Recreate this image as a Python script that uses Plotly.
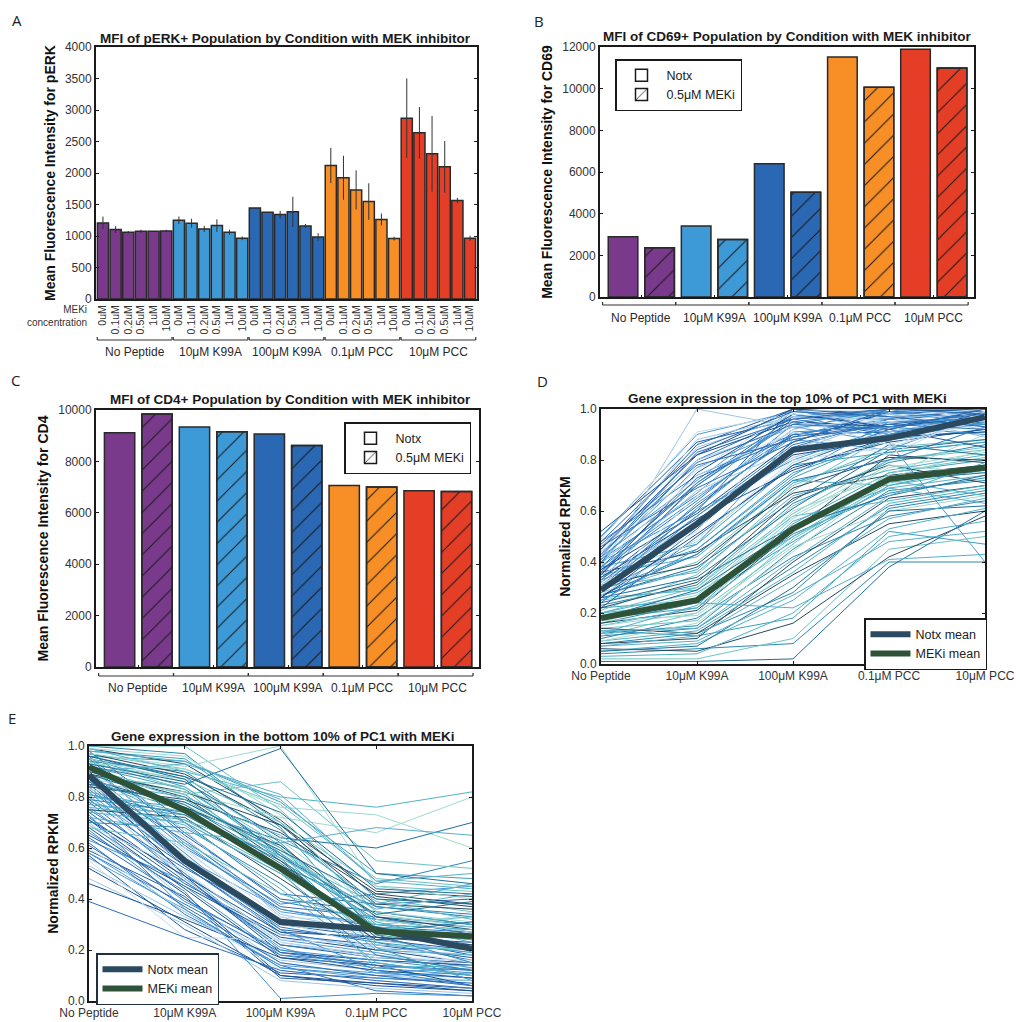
import plotly.graph_objects as go

W, H = 1016, 1022

# ---------------- DATA ----------------
GROUPS = ["No Peptide", "10μM K99A", "100μM K99A", "0.1μM PCC", "10μM PCC"]
GROUP_COLORS = ["#7a3a8c", "#3e9ad6", "#2a68b3", "#f78e26", "#e53e27"]
MEKI_DOSES = ["0uM", "0.1uM", "0.2uM", "0.5uM", "1uM", "10uM"]

# Panel A: pERK MFI (6 doses per group) and error
PERK_MEAN = [1208, 1102, 1060, 1075, 1075, 1080,
             1250, 1203, 1112, 1165, 1060, 964,
             1446, 1377, 1340, 1383, 1160, 985,
             2119, 1923, 1732, 1547, 1261, 959,
             2871, 2638, 2304, 2098, 1563, 964]
PERK_ERR = [100, 55, 20, 25, 0, 20,
            60, 70, 50, 100, 40, 30,
            0, 0, 60, 240, 30, 60,
            280, 350, 310, 290, 95, 30,
            630, 410, 600, 410, 40, 40]

# Panel B: CD69 MFI
CD69_NOTX = [2892, 3406, 6394, 11518, 11888]
CD69_MEKI = [2361, 2763, 5028, 10072, 10988]

# Panel C: CD4 MFI
CD4_NOTX = [9117, 9338, 9065, 7065, 6857]
CD4_MEKI = [9844, 9156, 8623, 7000, 6831]

# Panel D: top 10% of PC1
D_NOTX_MEAN = [0.29, 0.55, 0.84, 0.886, 0.968]
D_MEKI_MEAN = [0.18, 0.25, 0.53, 0.725, 0.77]
D_GENES_UP = [
    [0.45, 0.86, 1.00, 0.98, 1.00], [0.40, 0.80, 0.97, 1.00, 0.99], [0.50, 0.90, 0.99, 0.96, 1.00],
    [0.38, 1.00, 0.93, 0.95, 0.97], [0.35, 0.75, 0.98, 0.93, 0.99], [0.42, 0.70, 0.95, 0.99, 0.96],
    [0.30, 0.66, 0.92, 0.97, 1.00], [0.47, 0.78, 0.88, 0.94, 0.98], [0.33, 0.62, 0.90, 0.91, 0.95],
    [0.28, 0.58, 0.86, 0.95, 0.97], [0.44, 0.72, 1.00, 0.90, 0.94], [0.36, 0.68, 0.84, 0.98, 0.92],
    [0.26, 0.55, 0.82, 0.88, 0.99], [0.40, 0.60, 0.80, 0.93, 0.90], [0.31, 0.52, 0.96, 0.86, 0.96],
    [0.48, 0.84, 0.99, 0.97, 0.93], [0.22, 0.50, 0.78, 0.92, 1.00], [0.37, 0.64, 0.94, 1.00, 0.97],
    [0.29, 0.47, 0.88, 0.84, 0.98], [0.43, 0.88, 0.97, 0.99, 0.95], [0.34, 0.57, 0.76, 0.89, 0.91],
    [0.25, 0.45, 0.74, 0.95, 0.96], [0.39, 0.74, 0.91, 0.82, 0.99], [0.46, 0.69, 0.87, 1.00, 1.00],
    [0.32, 0.60, 1.00, 0.92, 0.85], [0.27, 0.43, 0.72, 0.80, 0.93], [0.41, 0.77, 0.93, 0.87, 0.40],
    [0.35, 0.54, 0.83, 0.97, 0.89], [0.52, 0.82, 0.95, 0.93, 0.97], [0.30, 0.63, 0.89, 0.99, 0.94],
    [0.49, 0.91, 0.98, 0.95, 0.99], [0.42, 0.83, 0.96, 1.00, 0.98], [0.38, 0.71, 0.97, 0.96, 1.00],
    [0.41, 0.66, 0.90, 0.96, 0.98], [0.33, 0.71, 0.95, 0.91, 0.97], [0.46, 0.80, 0.93, 0.98, 0.95],
    [0.37, 0.59, 0.87, 0.99, 1.00], [0.29, 0.61, 0.91, 0.93, 0.96], [0.44, 0.76, 0.99, 1.00, 0.97],
    [0.36, 0.73, 0.89, 0.94, 0.92], [0.50, 0.87, 0.96, 0.90, 0.99], [0.24, 0.53, 0.85, 0.96, 0.98],
    [0.40, 0.67, 0.98, 0.88, 0.95], [0.32, 0.56, 0.81, 0.91, 0.97], [0.45, 0.82, 1.00, 0.97, 0.99],
    [0.38, 0.65, 0.92, 1.00, 0.93], [0.27, 0.49, 0.80, 0.85, 0.96], [0.43, 0.79, 0.94, 0.92, 1.00],
    [0.35, 0.70, 0.96, 0.99, 0.96], [0.48, 0.74, 0.90, 0.95, 0.94], [0.31, 0.58, 0.84, 0.90, 0.99],
    [0.39, 0.85, 0.97, 0.94, 0.98], [0.26, 0.51, 0.77, 0.87, 0.92],
]
D_GENES_LOW = [
    [0.18, 0.22, 0.55, 0.75, 0.80], [0.12, 0.15, 0.45, 0.68, 0.72], [0.25, 0.30, 0.62, 0.80, 0.85],
    [0.08, 0.10, 0.40, 0.65, 0.70], [0.20, 0.28, 0.50, 0.72, 0.66], [0.15, 0.20, 0.58, 0.78, 0.75],
    [0.05, 0.07, 0.30, 0.60, 0.62], [0.30, 0.36, 0.66, 0.76, 0.82], [0.22, 0.25, 0.48, 0.70, 0.78],
    [0.10, 0.18, 0.42, 0.58, 0.64], [0.28, 0.40, 0.70, 0.85, 0.88], [0.14, 0.12, 0.35, 0.55, 0.60],
    [0.03, 0.04, 0.20, 0.50, 0.56], [0.18, 0.26, 0.60, 0.74, 0.90], [0.24, 0.33, 0.54, 0.66, 0.74],
    [0.07, 0.09, 0.27, 0.48, 0.52], [0.33, 0.45, 0.75, 0.88, 0.92], [0.11, 0.14, 0.38, 0.62, 0.68],
    [0.02, 0.02, 0.10, 0.45, 0.50], [0.16, 0.21, 0.52, 0.82, 0.79], [0.26, 0.29, 0.58, 0.64, 0.70],
    [0.09, 0.16, 0.44, 0.73, 0.84], [0.01, 0.01, 0.02, 0.38, 0.60], [0.20, 0.24, 0.22, 0.41, 0.43],
    [0.13, 0.11, 0.18, 0.52, 0.47], [0.04, 0.06, 0.08, 0.40, 0.40], [0.21, 0.35, 0.68, 0.90, 0.95],
    [0.06, 0.05, 0.16, 0.42, 0.58], [0.35, 0.42, 0.72, 0.70, 0.76], [0.17, 0.19, 0.46, 0.60, 0.66],
    [0.27, 0.38, 0.64, 0.86, 0.82], [0.12, 0.23, 0.56, 0.69, 0.63], [0.38, 0.47, 0.78, 0.83, 0.87],
    [0.23, 0.31, 0.63, 0.79, 0.86], [0.14, 0.17, 0.49, 0.71, 0.77], [0.31, 0.39, 0.69, 0.81, 0.80],
    [0.09, 0.13, 0.36, 0.63, 0.69], [0.19, 0.27, 0.57, 0.77, 0.83], [0.26, 0.34, 0.61, 0.84, 0.88],
    [0.07, 0.11, 0.33, 0.57, 0.65], [0.29, 0.43, 0.73, 0.89, 0.91], [0.16, 0.24, 0.51, 0.67, 0.73],
    [0.11, 0.20, 0.47, 0.75, 0.81], [0.22, 0.32, 0.65, 0.78, 0.71], [0.05, 0.08, 0.25, 0.53, 0.61],
    [0.34, 0.48, 0.79, 0.92, 0.94], [0.18, 0.29, 0.53, 0.72, 0.75], [0.13, 0.14, 0.41, 0.66, 0.79],
    [0.27, 0.37, 0.71, 0.83, 0.87], [0.08, 0.12, 0.28, 0.61, 0.67], [0.20, 0.30, 0.59, 0.80, 0.84],
    [0.36, 0.44, 0.67, 0.74, 0.78], [0.15, 0.22, 0.50, 0.69, 0.74],
]

# Panel E: bottom 10% of PC1
E_NOTX_MEAN = [0.885, 0.55, 0.31, 0.28, 0.205]
E_MEKI_MEAN = [0.918, 0.748, 0.52, 0.273, 0.254]
E_GENES_UP = [
    [0.98, 0.95, 0.70, 0.35, 0.30], [0.95, 0.88, 0.62, 0.28, 0.25], [1.00, 1.00, 0.75, 0.40, 0.35],
    [0.90, 0.80, 0.55, 0.25, 0.22], [0.85, 0.78, 0.60, 0.30, 0.28], [0.97, 0.92, 1.00, 0.45, 0.40],
    [0.92, 0.85, 0.99, 0.50, 0.46], [0.88, 0.70, 0.50, 0.20, 0.18], [0.80, 0.76, 0.58, 0.33, 0.30],
    [1.00, 0.97, 0.68, 0.26, 0.15], [0.94, 0.83, 0.52, 0.22, 0.20], [0.75, 0.72, 0.48, 0.24, 0.26],
    [0.99, 0.90, 0.80, 0.76, 0.82], [0.87, 0.82, 0.72, 0.66, 0.80], [0.93, 0.86, 0.64, 0.60, 0.70],
    [0.82, 0.74, 0.56, 0.36, 0.42], [0.96, 0.94, 0.78, 0.50, 0.48], [0.70, 0.68, 0.46, 0.18, 0.12],
    [0.91, 0.81, 0.86, 0.55, 0.52], [0.84, 0.79, 0.66, 0.42, 0.38], [0.78, 0.69, 0.44, 0.15, 0.10],
    [0.99, 0.96, 0.73, 0.32, 0.27], [0.89, 0.77, 0.54, 0.27, 0.31], [0.72, 0.66, 0.62, 0.68, 0.65],
    [0.95, 0.84, 0.58, 0.21, 0.08], [0.86, 0.75, 0.63, 0.46, 0.55], [0.68, 0.62, 0.42, 0.30, 0.33],
    [0.97, 0.89, 0.69, 0.38, 0.36], [0.81, 0.71, 0.51, 0.13, 0.14], [0.93, 0.91, 0.76, 0.73, 0.60],
    [0.96, 0.87, 0.57, 0.34, 0.39], [0.90, 0.93, 0.81, 0.47, 0.44], [0.77, 0.73, 0.53, 0.29, 0.24],
    [0.94, 0.90, 0.67, 0.37, 0.33], [0.88, 0.84, 0.61, 0.29, 0.26], [0.99, 0.93, 0.71, 0.41, 0.37],
    [0.91, 0.79, 0.57, 0.31, 0.23], [0.83, 0.77, 0.59, 0.34, 0.29], [0.96, 0.88, 0.74, 0.44, 0.42],
    [0.86, 0.80, 0.65, 0.39, 0.32], [0.92, 0.83, 0.60, 0.26, 0.21], [0.79, 0.74, 0.55, 0.32, 0.27],
    [0.97, 0.91, 0.77, 0.48, 0.45], [0.89, 0.82, 0.69, 0.43, 0.41], [0.74, 0.70, 0.50, 0.28, 0.24],
    [0.95, 0.86, 0.63, 0.35, 0.31], [0.85, 0.78, 0.59, 0.40, 0.38], [0.98, 0.94, 0.79, 0.47, 0.50],
    [0.90, 0.81, 0.56, 0.23, 0.19], [0.81, 0.73, 0.53, 0.37, 0.34], [0.93, 0.87, 0.70, 0.45, 0.43],
    [0.87, 0.76, 0.61, 0.33, 0.28], [0.76, 0.71, 0.57, 0.38, 0.46],
]
E_GENES_LOW = [
    [0.85, 0.55, 0.30, 0.25, 0.18], [0.78, 0.48, 0.22, 0.18, 0.12], [0.92, 0.62, 0.35, 0.30, 0.25],
    [0.70, 0.40, 0.15, 0.10, 0.08], [0.65, 0.45, 0.25, 0.20, 0.15], [0.88, 0.58, 0.28, 0.12, 0.06],
    [0.60, 0.35, 0.12, 0.08, 0.05], [0.75, 0.52, 0.32, 0.28, 0.22], [0.95, 0.65, 0.40, 0.35, 0.30],
    [0.58, 0.38, 0.18, 0.15, 0.10], [0.82, 0.50, 0.20, 0.14, 0.11], [0.48, 0.30, 0.08, 0.05, 0.03],
    [0.68, 0.42, 0.10, 0.06, 0.04], [0.90, 0.60, 0.38, 0.42, 0.45], [0.55, 0.25, 0.24, 0.22, 0.20],
    [0.39, 0.25, 0.12, 0.08, 0.05], [0.72, 0.46, 0.26, 0.22, 0.17], [0.62, 0.34, 0.14, 0.04, 0.02],
    [0.80, 0.56, 0.36, 0.30, 0.28], [0.53, 0.33, 0.16, 0.12, 0.09], [0.87, 0.49, 0.19, 0.16, 0.14],
    [0.66, 0.43, 0.01, 0.03, 0.02], [0.76, 0.60, 0.30, 0.26, 0.35], [0.98, 0.70, 0.42, 0.38, 0.40],
    [0.57, 0.28, 0.11, 0.09, 0.07], [0.84, 0.53, 0.27, 0.20, 0.21], [0.63, 0.47, 0.21, 0.11, 0.13],
    [0.94, 0.67, 0.33, 0.24, 0.19], [0.46, 0.32, 0.17, 0.14, 0.06], [0.73, 0.36, 0.13, 0.10, 0.11],
    [0.69, 0.51, 0.23, 0.17, 0.16], [0.86, 0.63, 0.37, 0.33, 0.26], [0.59, 0.41, 0.09, 0.07, 0.04],
    [0.83, 0.54, 0.29, 0.23, 0.16], [0.76, 0.50, 0.24, 0.19, 0.13], [0.91, 0.64, 0.34, 0.27, 0.24],
    [0.71, 0.44, 0.17, 0.12, 0.09], [0.67, 0.39, 0.20, 0.16, 0.12], [0.86, 0.57, 0.31, 0.21, 0.15],
    [0.61, 0.37, 0.15, 0.10, 0.06], [0.79, 0.53, 0.28, 0.24, 0.20], [0.93, 0.61, 0.36, 0.29, 0.27],
    [0.56, 0.36, 0.13, 0.09, 0.08], [0.81, 0.48, 0.23, 0.18, 0.14], [0.52, 0.31, 0.10, 0.07, 0.05],
    [0.69, 0.45, 0.18, 0.13, 0.10], [0.88, 0.59, 0.33, 0.31, 0.33], [0.64, 0.40, 0.19, 0.14, 0.12],
    [0.74, 0.47, 0.22, 0.17, 0.15], [0.96, 0.66, 0.39, 0.32, 0.29], [0.58, 0.35, 0.14, 0.11, 0.09],
    [0.84, 0.55, 0.26, 0.21, 0.18], [0.71, 0.49, 0.27, 0.25, 0.23],
]

BLUE_PAL = ["#1f5fa8", "#2b78c2", "#4f9ad4", "#9cc5e8", "#1a4f8f", "#3b8fcf", "#c3dcf0", "#2d6db5"]
TEAL_PAL = ["#3aa0bf", "#2b88b0", "#6cc3c4", "#27495e", "#4fb3c8", "#9fd8d0", "#1f6f9a", "#5aaecb"]
NOTX_MEAN_COLOR = "#2b4a60"
MEKI_MEAN_COLOR = "#2e5238"
HATCH = "#1a1a1a"

# ---------------- STYLE HELPERS ----------------
FONT = "Liberation Sans"
TXT = "#2a2a2a"


def dx(x0, x1):
    return [x0 / W, x1 / W]


def dy(y0, y1):
    return [1 - y1 / H, 1 - y0 / H]


def px(x):
    return x / W


def py(y):
    return 1 - y / H


fig = go.Figure()

# ---------------- PANEL A ----------------
n_a = len(PERK_MEAN)
xa = list(range(n_a))
colors_a = [GROUP_COLORS[i // len(MEKI_DOSES)] for i in xa]
fig.add_trace(go.Bar(
    x=xa, y=PERK_MEAN, xaxis="x", yaxis="y", showlegend=False, width=0.88,
    marker=dict(color=colors_a, line=dict(color="#2a2a2a", width=1.5)),
    error_y=dict(type="data", array=PERK_ERR, color="#333333", thickness=1, width=0),
))

# ---------------- PANEL B & C ----------------
for notx, meki, ax, ay, lg in [(CD69_NOTX, CD69_MEKI, "x2", "y2", "legend2"),
                               (CD4_NOTX, CD4_MEKI, "x3", "y3", "legend3")]:
    ys, cs = [], []
    for i in range(len(notx)):
        ys += [notx[i], meki[i]]
        cs += [GROUP_COLORS[i], GROUP_COLORS[i]]
    xs = list(range(len(ys)))
    # solid coloured bars
    fig.add_trace(go.Bar(
        x=xs, y=ys, xaxis=ax, yaxis=ay, showlegend=False, width=0.81,
        marker=dict(color=cs, line=dict(color="#2a2a2a", width=1.5)),
    ))
    # hatch layer on the MEKi bars
    fig.add_trace(go.Bar(
        x=xs[1::2], y=meki, xaxis=ax, yaxis=ay, showlegend=False, width=0.81,
        marker=dict(color=HATCH, line=dict(color="#2a2a2a", width=1.5),
                    pattern=dict(shape="/", size=15, solidity=0.07, fillmode="replace")),
    ))
    fig.add_trace(go.Bar(
        x=[None], y=[None], xaxis=ax, yaxis=ay, name="Notx", legend=lg, showlegend=True,
        marker=dict(color="white", line=dict(color="#1a1a1a", width=1.5)),
    ))
    fig.add_trace(go.Bar(
        x=[None], y=[None], xaxis=ax, yaxis=ay, name="0.5μM MEKi", legend=lg, showlegend=True,
        marker=dict(color=HATCH, line=dict(color="#1a1a1a", width=1.5),
                    pattern=dict(shape="/", size=10, solidity=0.1, fillmode="replace")),
    ))

# ---------------- PANEL D & E ----------------
def add_gene_lines(genes, pal, ax, ay):
    buckets = {c: ([], []) for c in pal}
    for i, g in enumerate(genes):
        c = pal[i % len(pal)]
        bx, by = buckets[c]
        bx += list(range(len(g))) + [None]
        by += list(g) + [None]
    for c, (bx, by) in buckets.items():
        fig.add_trace(go.Scatter(x=bx, y=by, mode="lines", xaxis=ax, yaxis=ay,
                                 line=dict(color=c, width=1.0), showlegend=False,
                                 hoverinfo="skip"))


for up, low, nm, mm, ax, ay, lg in [
        (D_GENES_UP, D_GENES_LOW, D_NOTX_MEAN, D_MEKI_MEAN, "x4", "y4", "legend4"),
        (E_GENES_UP, E_GENES_LOW, E_NOTX_MEAN, E_MEKI_MEAN, "x5", "y5", "legend5")]:
    if ax == "x4":
        add_gene_lines(low, TEAL_PAL, ax, ay)
        add_gene_lines(up, BLUE_PAL, ax, ay)
    else:
        add_gene_lines(low, BLUE_PAL, ax, ay)
        add_gene_lines(up, TEAL_PAL, ax, ay)
    fig.add_trace(go.Scatter(x=list(range(5)), y=nm, mode="lines", xaxis=ax, yaxis=ay,
                             name="Notx mean", legend=lg,
                             line=dict(color=NOTX_MEAN_COLOR, width=6)))
    fig.add_trace(go.Scatter(x=list(range(5)), y=mm, mode="lines", xaxis=ax, yaxis=ay,
                             name="MEKi mean", legend=lg,
                             line=dict(color=MEKI_MEAN_COLOR, width=6)))

# ---------------- AXES ----------------
base = dict(showline=True, linecolor="#1a1a1a", linewidth=2, showgrid=False, zeroline=False,
            automargin=False,
            tickfont=dict(family=FONT, size=12, color="#333333"), tickcolor="#1a1a1a")
ytitle_font = dict(family=FONT, size=14, color="#111111")

layout = dict(
    width=W, height=H, margin=dict(l=0, r=0, t=0, b=0, autoexpand=False),
    paper_bgcolor="white", plot_bgcolor="white", showlegend=True, barmode="overlay",
    font=dict(family=FONT, color=TXT),
)

# A
layout["xaxis"] = dict(base, domain=dx(96, 477), range=[-0.55, n_a - 0.45], mirror=True,
                       tickmode="array", tickvals=xa,
                       ticktext=[MEKI_DOSES[i % 6] for i in xa], tickangle=-90, ticks="",
                       tickfont=dict(family=FONT, size=10.5, color="#333333"), anchor="y")
layout["yaxis"] = dict(base, domain=dy(47, 299), range=[0, 4000], dtick=500, mirror="ticks",
                       ticks="inside", ticklen=3, anchor="x", tickformat="d",
                       title=dict(text="<b>Mean Fluorescence Intensity for pERK</b>",
                                  font=ytitle_font, standoff=6))
# B
layout["xaxis2"] = dict(base, domain=dx(600, 974), range=[-0.63, 9.6], mirror=True,
                        tickvals=[0.5, 2.5, 4.5, 6.5, 8.5], showticklabels=False,
                        ticks="inside", ticklen=2, anchor="y2")
layout["yaxis2"] = dict(base, domain=dy(47, 297), range=[0, 12000], dtick=2000, mirror="ticks",
                        ticks="inside", ticklen=3, anchor="x2", tickformat="d",
                        title=dict(text="<b>Mean Fluorescence Intensity for CD69</b>",
                                   font=ytitle_font, standoff=6))
# C
layout["xaxis3"] = dict(base, domain=dx(96, 479), range=[-0.63, 9.6], mirror=True,
                        tickvals=[0.5, 2.5, 4.5, 6.5, 8.5], showticklabels=False,
                        ticks="inside", ticklen=2, anchor="y3")
layout["yaxis3"] = dict(base, domain=dy(410, 667), range=[0, 10000], dtick=2000, mirror="ticks",
                        ticks="inside", ticklen=3, anchor="x3", tickformat="d",
                        title=dict(text="<b>Mean Fluorescence Intensity for CD4</b>",
                                   font=ytitle_font, standoff=6))
# D
layout["xaxis4"] = dict(base, domain=dx(601, 985), range=[0, 4], mirror="ticks",
                        tickvals=list(range(5)), ticktext=GROUPS, ticks="inside", ticklen=3,
                        anchor="y4")
layout["yaxis4"] = dict(base, domain=dy(409, 664), range=[0, 1], dtick=0.2, tickformat=".1f",
                        mirror="ticks", ticks="inside", ticklen=3, anchor="x4",
                        title=dict(text="<b>Normalized RPKM</b>", font=ytitle_font, standoff=6))
# E
layout["xaxis5"] = dict(base, domain=dx(89, 472), range=[0, 4], mirror="ticks",
                        tickvals=list(range(5)), ticktext=GROUPS, ticks="inside", ticklen=3,
                        anchor="y5")
layout["yaxis5"] = dict(base, domain=dy(746, 1001), range=[0, 1], dtick=0.2, tickformat=".1f",
                        mirror="ticks", ticks="inside", ticklen=3, anchor="x5",
                        title=dict(text="<b>Normalized RPKM</b>", font=ytitle_font, standoff=6))

leg_font = dict(family=FONT, size=12.5, color="#222222")
leg_common = dict(xanchor="left", yanchor="top", bgcolor="white", font=leg_font,
                  tracegroupgap=0, itemwidth=40, borderwidth=1.5)
layout["legend2"] = dict(leg_common, x=px(615), y=py(59), bordercolor="#1a1a1a")
layout["legend3"] = dict(leg_common, x=px(344), y=py(422), bordercolor="#1a1a1a")
layout["legend4"] = dict(leg_common, x=px(864), y=py(618), bordercolor="#1a1a1a")
layout["legend5"] = dict(leg_common, x=px(96), y=py(953), bordercolor="#203040")
layout["legend"] = dict(visible=False)

fig.update_layout(**layout)

# ---------------- ANNOTATIONS / SHAPES ----------------
ann = []
shapes = []
title_font = dict(family=FONT, size=13.5, color="#1a1a1a")
for text, x, y in [("MFI of pERK+ Population by Condition with MEK inhibitor", 285, 38),
                   ("MFI of CD69+ Population by Condition with MEK inhibitor", 787, 37),
                   ("MFI of CD4+ Population by Condition with MEK inhibitor", 290, 399),
                   ("Gene expression in the top 10% of PC1 with MEKi", 787, 398),
                   ("Gene expression in the bottom 10% of PC1 with MEKi", 283, 736)]:
    ann.append(dict(text="<b>" + text + "</b>", x=px(x), y=py(y), xref="paper", yref="paper",
                    showarrow=False, font=title_font, xanchor="center", yanchor="middle"))

for letter, x, y in [("A", 17, 20), ("B", 539, 21), ("C", 15, 380), ("D", 542, 381), ("E", 12, 718)]:
    ann.append(dict(text=letter, x=px(x), y=py(y), xref="paper", yref="paper", showarrow=False,
                    font=dict(family="Open Sans", size=15, color="#222222"),
                    xanchor="center", yanchor="middle"))

ann.append(dict(text="MEKi<br>concentration", x=px(89), y=py(316), xref="paper", yref="paper",
                showarrow=False, align="right", xanchor="right", yanchor="middle",
                font=dict(family=FONT, size=10, color="#333333")))

grp_font = dict(family=FONT, size=12, color="#2a2a2a")


def brackets(xref, lo_off, hi_off, per, ybr, ylab):
    for g, name in enumerate(GROUPS):
        x0 = g * per + lo_off
        x1 = g * per + hi_off
        shapes.append(dict(type="line", xref=xref, yref="paper", x0=x0, x1=x1,
                           y0=py(ybr), y1=py(ybr), line=dict(color="#333333", width=1.2)))
        for xe in (x0, x1):
            shapes.append(dict(type="line", xref=xref, yref="paper", x0=xe, x1=xe,
                               y0=py(ybr), y1=py(ybr - 3), line=dict(color="#333333", width=1.2)))
        ann.append(dict(text=name, x=g * per + (per - 1) / 2, y=py(ylab), xref=xref, yref="paper",
                        showarrow=False, font=grp_font, xanchor="center", yanchor="middle"))


brackets("x", -0.45, 5.45, 6, 340, 352)
brackets("x2", -0.56, 1.44, 2, 305, 318)
brackets("x3", -0.56, 1.44, 2, 676, 688)

fig.update_layout(annotations=ann, shapes=shapes)

fig.write_html("out.html")
